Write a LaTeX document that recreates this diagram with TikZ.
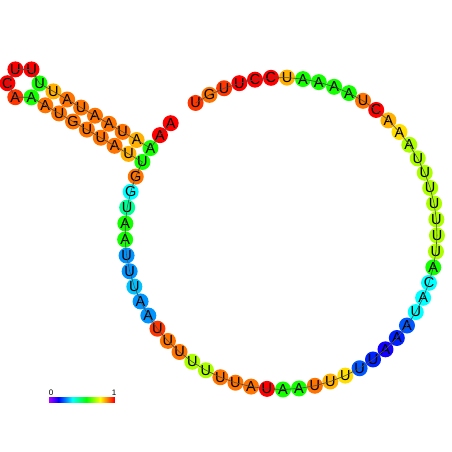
\documentclass[tikz,border=0pt]{standalone}
\usepackage{fontspec}
\setmainfont{Liberation Sans}
\usetikzlibrary{calc}
% hue -> rgb colour (pgf wants rgb)
\newcommand{\huecolor}[2]{%
  \convertcolorspec{hsb}{#2,1,1}{rgb}\huespec
  \definecolor{#1}{rgb}{\huespec}}
\huecolor{pRed}{0.00}
\huecolor{pRedOrange}{0.035}
\huecolor{pOrange}{0.075}
\huecolor{pGold}{0.115}
\huecolor{pYellow}{0.145}
\huecolor{pLime}{0.22}
\huecolor{pGreen}{0.32}
\huecolor{pTeal}{0.43}
\huecolor{pCyan}{0.50}
\huecolor{pAzure}{0.54}
\huecolor{pSky}{0.57}
\huecolor{pBlue}{0.61}
\huecolor{pRoyal}{0.645}
\huecolor{pIndigo}{0.68}
\tikzset{
    % nucleotide, filled by its entropy colour
    base/.style={
        circle, fill=#1, minimum size=16pt, inner sep=0pt,
        font=\fontsize{14.5}{14.5}\selectfont
    },
    % backbone between consecutive nucleotides
    backbone/.style={line width=0.6pt, black!70},
    % colour scale labels
    scalelabel/.style={inner sep=0pt, font=\fontsize{8}{8}\selectfont},
}

\begin{document}
\begin{tikzpicture}[x=1pt,y=-1pt]
  \useasboundingbox (0,0) rectangle (452,452);
  % exterior loop (61 slots, one left empty)
  \foreach \k/\n/\b/\c in {0/1/A/pRed, 1/2/A/pRed, 2/3/A/pGreen, 3/24/U/pGreen,
      4/25/G/pOrange, 5/26/G/pCyan, 6/27/U/pTeal, 7/28/A/pGreen, 8/29/A/pGreen,
      9/30/U/pSky, 10/31/U/pSky, 11/32/U/pAzure, 12/33/A/pSky, 13/34/A/pSky,
      14/35/U/pRedOrange, 15/36/U/pOrange, 16/37/U/pOrange, 17/38/U/pLime,
      18/39/U/pLime, 19/40/U/pOrange, 20/41/U/pOrange, 21/42/A/pOrange,
      22/43/U/pRed, 23/44/A/pGreen, 24/45/A/pGreen, 25/46/U/pOrange,
      26/47/U/pGold, 27/48/U/pYellow, 28/49/U/pBlue, 29/50/U/pRoyal,
      30/51/A/pIndigo, 31/52/A/pRoyal, 32/53/A/pBlue, 33/54/U/pCyan,
      34/55/A/pCyan, 35/56/C/pCyan, 36/57/A/pGreen, 37/58/U/pLime,
      38/59/U/pLime, 39/60/U/pLime, 40/61/U/pLime, 41/62/U/pLime, 42/63/U/pLime,
      43/64/U/pLime, 44/65/A/pLime, 45/66/A/pYellow, 46/67/A/pGold,
      47/68/C/pRed, 48/69/U/pOrange, 49/70/A/pGreen, 50/71/A/pGreen,
      51/72/A/pGreen, 52/73/A/pGreen, 53/74/U/pGold, 54/75/C/pRed,
      55/76/C/pRed, 56/77/U/pRed, 57/78/U/pRedOrange, 58/79/G/pOrange,
      59/80/U/pRedOrange}{
    \node[base=\c] (b\n) at ({281+156*cos(135+\k*5.90164)},{233.5-156*sin(135+\k*5.90164)}) {\b};}
  % helix and hairpin loop
  \foreach \n/\b/\c/\x/\y in {4/A/pGold/136.6/140.0, 5/U/pOrange/122.7/131.9,
      6/A/pOrange/108.9/123.8, 7/A/pOrange/95.0/115.7, 8/U/pOrange/81.1/107.6,
      9/A/pOrange/67.2/99.5, 10/U/pGold/53.4/91.4, 11/U/pGreen/39.5/83.4,
      12/U/pRed/31.5/69.4, 13/U/pRed/15.4/69.4, 14/C/pRed/7.4/83.2,
      15/A/pRedOrange/15.3/97.2, 16/A/pGreen/31.4/97.3, 17/A/pOrange/45.3/105.3,
      18/U/pOrange/59.1/113.4, 19/G/pOrange/73.0/121.5, 20/U/pOrange/86.9/129.6,
      21/U/pOrange/100.8/137.7, 22/A/pOrange/114.6/145.8, 23/U/pGold/128.5/153.9}{
    \node[base=\c] (b\n) at (\x,\y) {\b};}
  \foreach \n [remember=\n as \p (initially 1)] in {2,...,80}{
    \draw[backbone] (b\p.center) -- (b\n.center);}
  % colour scale
  \foreach \i in {0,...,65}{
    \pgfmathsetmacro\hue{0.78*(1-\i/65)}
    \huecolor{barcol}{\hue}
    \fill[barcol] (49+\i,396.5) rectangle (50.2+\i,402.5);}
  \node[scalelabel] (lo) at (51,392.5) {0};
  \node[scalelabel] (hi) at (114,392.5) {1};
\end{tikzpicture}
\end{document}
